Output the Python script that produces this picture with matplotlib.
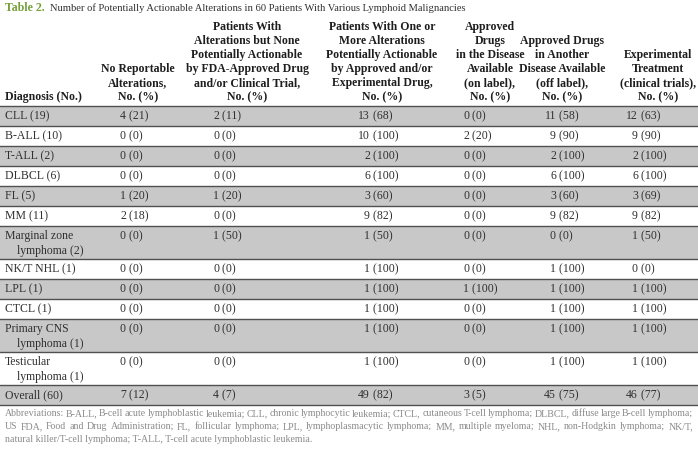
import matplotlib
matplotlib.use("Agg")
import matplotlib.pyplot as plt

plt.rcParams['font.family'] = ['Liberation Serif', 'DejaVu Serif']

# table content
diagnoses = ["CLL (19)", "B-ALL (10)", "T-ALL (2)", "DLBCL (6)", "FL (5)", "MM (11)",
             "Marginal zone\nlymphoma (2)", "NK/T NHL (1)", "LPL (1)", "CTCL (1)",
             "Primary CNS\nlymphoma (1)", "Testicular\nlymphoma (1)", "Overall (60)"]

no_reportable_n = [4, 0, 0, 0, 1, 2, 0, 0, 0, 0, 0, 0, 7]
no_reportable_pct = [21, 0, 0, 0, 20, 18, 0, 0, 0, 0, 0, 0, 12]
none_actionable_n = [2, 0, 0, 0, 1, 0, 1, 0, 0, 0, 0, 0, 4]
none_actionable_pct = [11, 0, 0, 0, 20, 0, 50, 0, 0, 0, 0, 0, 7]
actionable_n = [13, 10, 2, 6, 3, 9, 1, 1, 1, 1, 1, 1, 49]
actionable_pct = [68, 100, 100, 100, 60, 82, 50, 100, 100, 100, 100, 100, 82]
on_label_n = [0, 2, 0, 0, 0, 0, 0, 0, 1, 0, 0, 0, 3]
on_label_pct = [0, 20, 0, 0, 0, 0, 0, 0, 100, 0, 0, 0, 5]
off_label_n = [11, 9, 2, 6, 3, 9, 0, 1, 1, 1, 1, 1, 45]
off_label_pct = [58, 90, 100, 100, 60, 82, 0, 100, 100, 100, 100, 100, 75]
trial_n = [12, 9, 2, 6, 3, 9, 1, 0, 1, 1, 1, 1, 46]
trial_pct = [63, 90, 100, 100, 69, 82, 50, 0, 100, 100, 100, 100, 77]

headers = ["Diagnosis (No.)",
           "No Reportable\nAlterations,\nNo. (%)",
           "Patients With\nAlterations but None\nPotentially Actionable\nby FDA-Approved Drug\nand/or Clinical Trial,\nNo. (%)",
           "Patients With One or\nMore Alterations\nPotentially Actionable\nby Approved and/or\nExperimental Drug,\nNo. (%)",
           "Approved\nDrugs\nin the Disease\nAvailable\n(on label),\nNo. (%)",
           "Approved Drugs\nin Another\nDisease Available\n(off label),\nNo. (%)",
           "Experimental\nTreatment\n(clinical trials),\nNo. (%)"]

title_tag = "Table 2."
title_text = "Number of Potentially Actionable Alterations in 60 Patients With Various Lymphoid Malignancies"
footnote = ["Abbreviations: B-ALL, B-cell acute lymphoblastic leukemia; CLL, chronic lymphocytic leukemia; CTCL, cutaneous T-cell lymphoma; DLBCL, diffuse large B-cell lymphoma;",
            "US FDA, Food and Drug Administration; FL, follicular lymphoma; LPL, lymphoplasmacytic lymphoma; MM, multiple myeloma; NHL, non-Hodgkin lymphoma; NK/T,",
            "natural killer/T-cell lymphoma; T-ALL, T-cell acute lymphoblastic leukemia."]

columns = [(no_reportable_n, no_reportable_pct), (none_actionable_n, none_actionable_pct),
           (actionable_n, actionable_pct), (on_label_n, on_label_pct),
           (off_label_n, off_label_pct), (trial_n, trial_pct)]

# layout (pixels)
W, H = 698, 454
header_x = [5, 138, 247, 382, 490, 562, 658]
value_x = [126, 219, 370, 469, 556, 638]
header_bottom = 97
line_gap = 14
top = 106
single_h, double_h = 20, 33
body_color = "#303030"
note_color = "#8a8a8a"
note_size = 7.1
gray = "#c8c8c8"

fig = plt.figure(figsize=(W / 100, H / 100), dpi=100)
ax = fig.add_axes([0, 0, 1, 1])
ax.set_xlim(0, W)
ax.set_ylim(H, 0)
ax.axis('off')

fig.canvas.draw()
r = fig.canvas.get_renderer()


def width_of(artist):
    # width in pixels (1 data unit == 1 pixel here)
    b = artist.get_window_extent(r)
    return b.width


# title
t = ax.text(5, 8, title_tag, fontsize=8.6, fontweight='bold', color="#77a03c", va='center', ha='left')
x_end = 5 + width_of(t)
ax.text(x_end + 5, 8, title_text, fontsize=7.6, color="#303030", va='center', ha='left')

# header
for i, h in enumerate(headers):
    lines = h.split("\n")
    for k, ln in enumerate(reversed(lines)):
        y = header_bottom - k * line_gap
        ax.text(header_x[i], y, ln, fontsize=8.5, fontweight='bold', color="#1e1e1e",
                va='center', ha='left' if i == 0 else 'center')

# rows
y = top
ax.plot([0, W], [y, y], color="#505050", lw=1.0)
for j, label in enumerate(diagnoses):
    parts = label.split("\n")
    rh = double_h if len(parts) > 1 else single_h
    if j % 2 == 0:
        ax.axhspan(y, y + rh, color=gray, lw=0, zorder=0)
    for k, p in enumerate(parts):
        ax.text(5 + 12 * k, y + 10 + 15 * k, p, fontsize=8.5, color=body_color, va='center', ha='left')
    for c, (ns, ps) in enumerate(columns):
        ax.text(value_x[c], y + 10, str(ns[j]), fontsize=8.5, color=body_color, va='center', ha='right')
        ax.text(value_x[c], y + 10, " (%d)" % ps[j], fontsize=8.5, color=body_color, va='center', ha='left')
    y += rh
    ax.plot([0, W], [y, y], color="#505050", lw=1.0)

# footnote, first lines justified
x0, x1 = 5, 693
fy = y + 9
for k, ln in enumerate(footnote):
    yy = fy + k * 12.5
    if k == len(footnote) - 1:
        ax.text(x0, yy, ln, fontsize=note_size, color=note_color, va='center', ha='left')
        continue
    words = ln.split(" ")
    arts = [ax.text(0, yy, w, fontsize=note_size, color=note_color, va='center', ha='left') for w in words]
    widths = [width_of(a) for a in arts]
    gap = (x1 - x0 - sum(widths)) / (len(words) - 1)
    xx = x0
    for a, wd in zip(arts, widths):
        a.set_x(xx)
        xx += wd + gap

fig.savefig("out.png", dpi=100)
